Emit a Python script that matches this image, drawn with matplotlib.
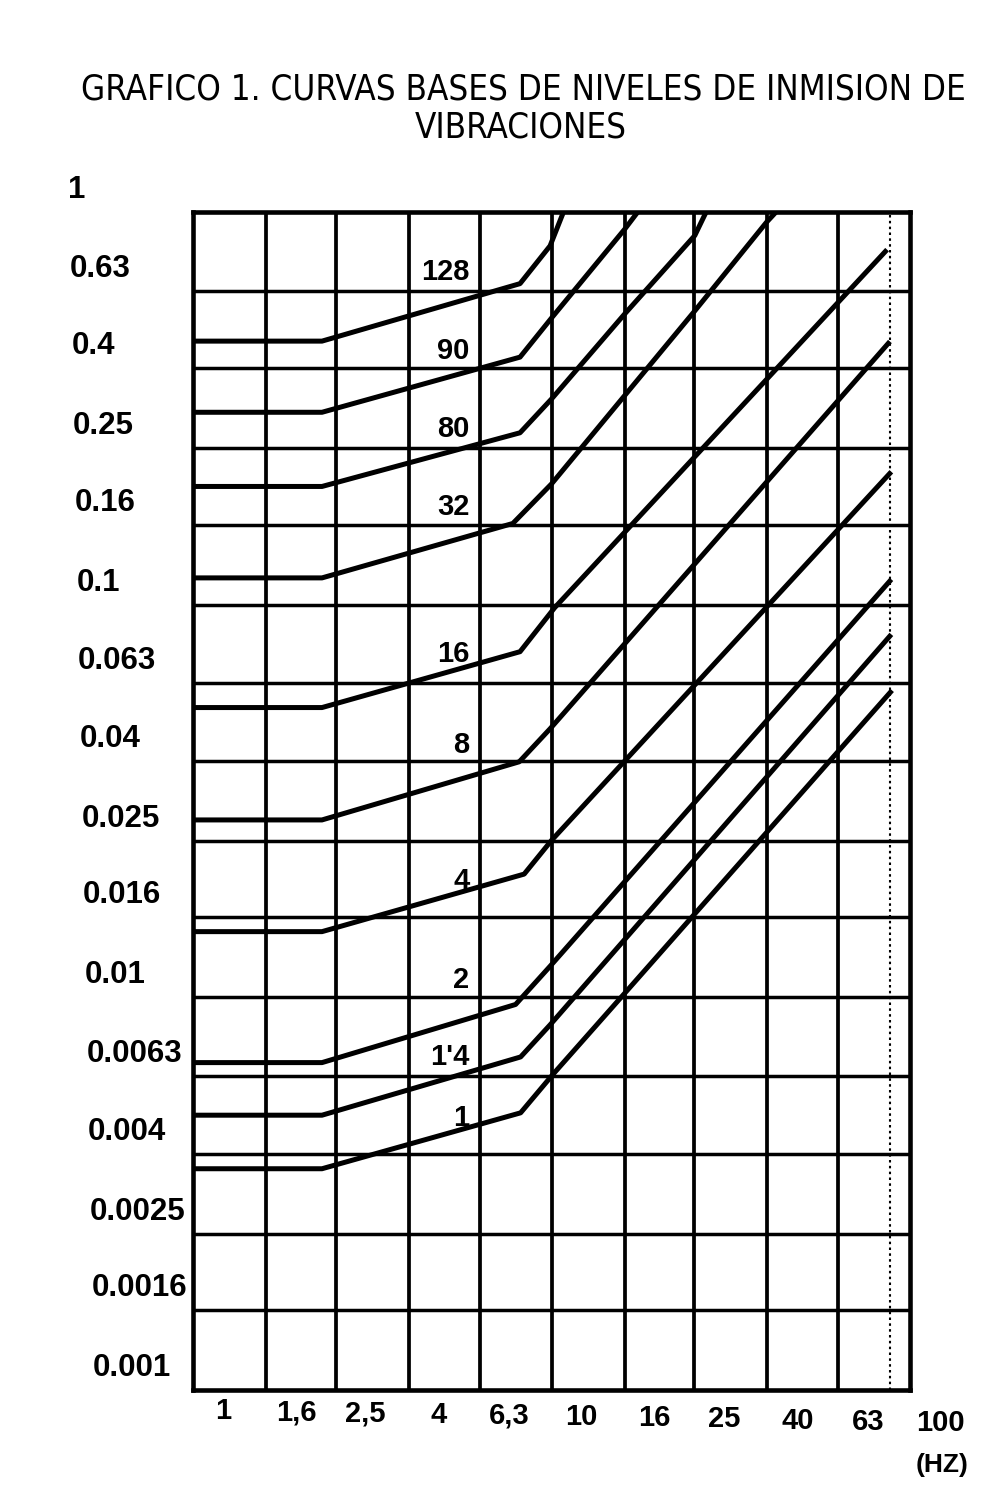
import numpy as np
import matplotlib
matplotlib.use("Agg")
import matplotlib.pyplot as plt
from matplotlib import transforms as mtrans
from matplotlib import font_manager as fm
from matplotlib.ticker import NullLocator

# ---------------- data ----------------
TITLE_1 = "GRAFICO 1. CURVAS BASES DE NIVELES DE INMISION DE"
TITLE_2 = "VIBRACIONES"

X_TICKS = [1, 1.6, 2.5, 4, 6.3, 10, 16, 25, 40, 63, 100]
X_TICK_LABELS = ["1", "1,6", "2,5", "4", "6,3", "10", "16", "25", "40", "63", "100"]
X_UNIT = "(HZ)"

Y_TICKS = [1, 0.63, 0.4, 0.25, 0.16, 0.1, 0.063, 0.04, 0.025, 0.016,
           0.01, 0.0063, 0.004, 0.0025, 0.0016, 0.001]
Y_TICK_LABELS = ["1", "0.63", "0.4", "0.25", "0.16", "0.1", "0.063", "0.04",
                 "0.025", "0.016", "0.01", "0.0063", "0.004", "0.0025",
                 "0.0016", "0.001"]

LIMIT_F = 88  # dotted vertical line (end of curves)

# curves: frequency (Hz) and level
F_128 = [1.0, 2.29, 8.17, 9.91, 10.8]
A_128 = [0.469, 0.469, 0.657, 0.820, 1.0]

F_90 = [1.0, 2.29, 8.17, 10.0, 16.0, 17.4]
A_90 = [0.309, 0.309, 0.427, 0.537, 0.904, 1.0]

F_80 = [1.0, 2.29, 8.17, 10.0, 16.0, 25.1, 27.0]
A_80 = [0.200, 0.200, 0.274, 0.334, 0.550, 0.871, 1.0]

F_32 = [1.0, 2.29, 7.8, 10.0, 25.1, 39.8, 42.3]
A_32 = [0.117, 0.117, 0.161, 0.203, 0.560, 0.942, 1.0]

F_16 = [1.0, 2.29, 8.17, 10.2, 86.3]
A_16 = [0.0547, 0.0547, 0.0759, 0.0982, 0.802]

F_8 = [1.0, 2.29, 8.13, 9.91, 87.9]
A_8 = [0.0283, 0.0283, 0.0398, 0.0483, 0.468]

F_4 = [1.0, 2.29, 8.39, 10.0, 88.7]
A_4 = [0.0147, 0.0147, 0.0206, 0.0251, 0.218]

F_2 = [1.0, 2.29, 7.94, 9.91, 88.7]
A_2 = [0.00682, 0.00682, 0.00959, 0.0120, 0.116]

F_14 = [1.0, 2.29, 8.2, 9.91, 88.7]
A_14 = [0.00501, 0.00501, 0.00705, 0.00851, 0.0840]

F_1 = [1.0, 2.29, 8.2, 10.1, 15.5, 89.1]
A_1 = [0.00366, 0.00366, 0.00508, 0.00637, 0.00991, 0.0605]

CURVE_LABELS = ["128", "90", "80", "32", "16", "8", "4", "2", "1'4", "1"]
CURVE_F = [F_128, F_90, F_80, F_32, F_16, F_8, F_4, F_2, F_14, F_1]
CURVE_A = [A_128, A_90, A_80, A_32, A_16, A_8, A_4, A_2, A_14, A_1]

# label placement (style): frequency of label right edge, vertical offset px
LABEL_F = 5.9
LABEL_DY_PX = [26, 20, 18, 29, 12, 31, 9, 38, 15, 9]

# ---------------- fonts ----------------
names = {f.name for f in fm.fontManager.ttflist}
TICK_FONT = "Liberation Sans" if "Liberation Sans" in names else "DejaVu Sans"
if "Liberation Sans Narrow" in names:
    TITLE_KW = dict(family="Liberation Sans Narrow")
else:
    TITLE_KW = dict(family="DejaVu Sans", stretch="condensed")

W, H, DPI = 992, 1497, 100
fig = plt.figure(figsize=(W / DPI, H / DPI), dpi=DPI)
fig.patch.set_facecolor("white")

L, R, T, B = 193, 910, 212, 1390
ax = fig.add_axes([L / W, 1 - B / H, (R - L) / W, (B - T) / H])
ax.set_xscale("log")
ax.set_yscale("log")
ax.set_xlim(X_TICKS[0], X_TICKS[-1])
ax.set_ylim(Y_TICKS[-1], Y_TICKS[0])
ax.set_xticks([])
ax.set_yticks([])
ax.xaxis.set_minor_locator(NullLocator())
ax.yaxis.set_minor_locator(NullLocator())
for s in ax.spines.values():
    s.set_linewidth(3.3)
    s.set_color("black")

for f in X_TICKS[1:-1]:
    ax.axvline(f, color="black", lw=2.7, zorder=1)
for v in Y_TICKS[1:-1]:
    ax.axhline(v, color="black", lw=2.5, zorder=1)
ax.axvline(LIMIT_F, color="black", lw=1.5, ls=(0, (1.2, 1.6)), zorder=1)

for lab, fr, am, dy in zip(CURVE_LABELS, CURVE_F, CURVE_A, LABEL_DY_PX):
    ax.plot(fr, am, color="black", lw=3.6, solid_joinstyle="round",
            solid_capstyle="butt", zorder=3)
    yv = 10 ** np.interp(np.log10(LABEL_F), np.log10(fr), np.log10(am))
    ax.annotate(lab, xy=(LABEL_F, yv), xytext=(0, dy * 72 / DPI),
                textcoords="offset points", ha="right", va="center",
                fontsize=21, fontweight="bold", family=TICK_FONT, zorder=4)

# y tick labels (left aligned, sitting above their grid line; follow the
# slight slant of the printed column)
n_y = len(Y_TICKS) - 1
for i, (v, s) in enumerate(zip(Y_TICKS, Y_TICK_LABELS)):
    x_left = (68 + 25 * i / n_y) / W
    tr = mtrans.blended_transform_factory(fig.transFigure, ax.transData) + \
        mtrans.ScaledTranslation(0, 22 / DPI, fig.dpi_scale_trans)
    ax.text(x_left, v, s, transform=tr, ha="left", va="center",
            fontsize=22.5, fontweight="bold", family=TICK_FONT, clip_on=False)

# x tick labels (shifted right of their grid line)
n_x = len(X_TICKS) - 1
trans_x = mtrans.blended_transform_factory(ax.transData, fig.transFigure) + \
    mtrans.ScaledTranslation(30 / DPI, 0, fig.dpi_scale_trans)
for i, (f, s) in enumerate(zip(X_TICKS, X_TICK_LABELS)):
    yy = 1 - (1411 + 12 * i / n_x) / H
    ax.text(f, yy, s, transform=trans_x, ha="center", va="center",
            fontsize=21, fontweight="bold", family=TICK_FONT, clip_on=False)
fig.text(942 / W, 1 - 1465 / H, X_UNIT, ha="center", va="center",
         fontsize=19, fontweight="bold", family=TICK_FONT)

# title
t1 = fig.text(523 / W, 1 - 90 / H, TITLE_1, ha="center", va="center",
              fontsize=27, **TITLE_KW)
t2 = fig.text(521 / W, 1 - 128 / H, TITLE_2, ha="center", va="center",
              fontsize=27, **TITLE_KW)
fig.canvas.draw()
wpx = t1.get_window_extent().width
target = 885.0
if wpx > 0:
    fs = 27 * target / wpx
    fs = min(fs, 30)
    t1.set_fontsize(fs)
    t2.set_fontsize(fs)

fig.savefig("out.png", dpi=DPI, facecolor="white")
